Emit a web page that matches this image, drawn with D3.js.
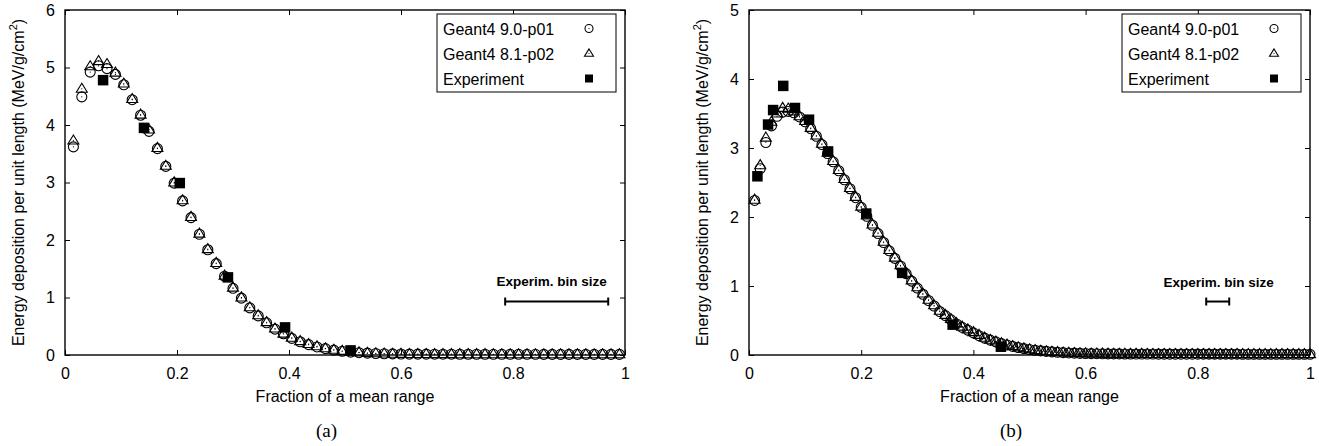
<!DOCTYPE html>
<html>
<head>
<meta charset="utf-8">
<script src="https://cdn.jsdelivr.net/npm/d3@7"></script>
<style>
  body { margin: 0; background: #fff; }
  text { fill: #000; }
</style>
</head>
<body>
<script>
// Panel (a): bins of 0.015 of the mean range
var xA = [0.015,0.03,0.045,0.06,0.075,0.09,0.105,0.12,0.135,0.15,
          0.165,0.18,0.195,0.21,0.225,0.24,0.255,0.27,0.285,0.3,
          0.315,0.33,0.345,0.36,0.375,0.39,0.405,0.42,0.435,0.45,
          0.465,0.48,0.495,0.51,0.525,0.54,0.555,0.57,0.585,0.6,
          0.615,0.63,0.645,0.66,0.675,0.69,0.705,0.72,0.735,0.75,
          0.765,0.78,0.795,0.81,0.825,0.84,0.855,0.87,0.885,0.9,
          0.915,0.93,0.945,0.96,0.975,0.99];
var g4_90_A = [3.62,4.49,4.92,5.03,4.98,4.88,4.70,4.44,4.17,3.89,
               3.59,3.28,2.99,2.68,2.39,2.10,1.83,1.59,1.37,1.16,
               0.99,0.82,0.68,0.56,0.45,0.37,0.29,0.23,0.18,0.14,
               0.11,0.085,0.065,0.05,0.04,0.032,0.026,0.022,0.019,0.017,
               0.016,0.015,0.015,0.014,0.014,0.014,0.013,0.013,0.013,0.013,
               0.012,0.012,0.012,0.012,0.012,0.012,0.011,0.011,0.011,0.011,
               0.011,0.011,0.011,0.011,0.011,0.011];
var g4_81_A = [3.73,4.63,5.02,5.11,5.06,4.91,4.72,4.45,4.18,3.92,
               3.60,3.29,3.00,2.69,2.40,2.11,1.84,1.60,1.38,1.17,
               1.00,0.83,0.69,0.57,0.46,0.37,0.30,0.24,0.19,0.15,
               0.115,0.09,0.07,0.055,0.044,0.035,0.028,0.024,0.021,0.019,
               0.016,0.015,0.015,0.014,0.014,0.014,0.013,0.013,0.013,0.013,
               0.012,0.012,0.012,0.012,0.012,0.012,0.011,0.011,0.011,0.011,
               0.011,0.011,0.011,0.011,0.011,0.011];
var expXA = [0.068,0.141,0.205,0.291,0.393,0.51];
var expYA = [4.78,3.95,2.99,1.35,0.48,0.08];
var binA = [0.786,0.970], binYA = 0.93;

// Panel (b): bins of 0.01 of the mean range
var xB = [0.01,0.02,0.03,0.04,0.05,0.06,0.07,0.08,0.09,0.1,
          0.11,0.12,0.13,0.14,0.15,0.16,0.17,0.18,0.19,0.2,
          0.21,0.22,0.23,0.24,0.25,0.26,0.27,0.28,0.29,0.3,
          0.31,0.32,0.33,0.34,0.35,0.36,0.37,0.38,0.39,0.4,
          0.41,0.42,0.43,0.44,0.45,0.46,0.47,0.48,0.49,0.5,
          0.51,0.52,0.53,0.54,0.55,0.56,0.57,0.58,0.59,0.6,
          0.61,0.62,0.63,0.64,0.65,0.66,0.67,0.68,0.69,0.7,
          0.71,0.72,0.73,0.74,0.75,0.76,0.77,0.78,0.79,0.8,
          0.81,0.82,0.83,0.84,0.85,0.86,0.87,0.88,0.89,0.9,
          0.91,0.92,0.93,0.94,0.95,0.96,0.97,0.98,0.99,1.0];
var g4_90_B = [2.24,2.70,3.08,3.32,3.46,3.52,3.53,3.51,3.45,3.38,
               3.28,3.17,3.05,2.92,2.80,2.67,2.54,2.41,2.28,2.14,
               2.01,1.88,1.76,1.63,1.51,1.40,1.29,1.18,1.07,0.97,
               0.88,0.79,0.71,0.63,0.57,0.51,0.45,0.40,0.36,0.32,
               0.28,0.245,0.215,0.19,0.165,0.145,0.125,0.108,0.093,0.08,
               0.069,0.06,0.052,0.045,0.039,0.034,0.03,0.027,0.024,0.022,
               0.02,0.019,0.018,0.017,0.016,0.016,0.015,0.015,0.014,0.014,
               0.014,0.014,0.013,0.013,0.013,0.013,0.013,0.013,0.012,0.012,
               0.012,0.012,0.012,0.012,0.012,0.012,0.012,0.011,0.011,0.011,
               0.011,0.011,0.011,0.011,0.011,0.011,0.011,0.011,0.011,0.010];
var g4_81_B = [2.25,2.75,3.15,3.38,3.50,3.58,3.57,3.53,3.46,3.39,
               3.29,3.18,3.06,2.93,2.81,2.68,2.55,2.42,2.29,2.15,
               2.02,1.89,1.77,1.64,1.52,1.41,1.30,1.19,1.08,0.98,
               0.89,0.80,0.72,0.64,0.58,0.52,0.46,0.41,0.37,0.33,
               0.29,0.25,0.22,0.195,0.17,0.15,0.13,0.11,0.095,0.082,
               0.07,0.061,0.053,0.046,0.04,0.035,0.031,0.028,0.025,0.023,
               0.021,0.02,0.019,0.018,0.017,0.016,0.016,0.015,0.015,0.015,
               0.014,0.014,0.014,0.014,0.013,0.013,0.013,0.013,0.013,0.013,
               0.012,0.012,0.012,0.012,0.012,0.012,0.012,0.012,0.012,0.012,
               0.011,0.011,0.011,0.011,0.011,0.011,0.011,0.011,0.011,0.011];
var expXB = [0.015,0.034,0.043,0.061,0.082,0.107,0.141,0.209,0.273,0.363,0.449];
var expYB = [2.59,3.34,3.55,3.90,3.58,3.41,2.95,2.05,1.19,0.44,0.12];
var binB = [0.815,0.856], binYB = 0.775;

var xTicks = [0, 0.2, 0.4, 0.6, 0.8, 1];
var xTickLabels = ["0", "0.2", "0.4", "0.6", "0.8", "1"];
var yTicksA = [0, 1, 2, 3, 4, 5, 6];
var yTicksB = [0, 1, 2, 3, 4, 5];
var legendNames = ["Geant4 9.0-p01", "Geant4 8.1-p02", "Experiment"];

var SANS = "'Liberation Sans', Arial, Helvetica, sans-serif";
var SERIF = "'Liberation Serif', 'Times New Roman', serif";

var W = 1319, H = 446;
var svg = d3.select("body").append("svg")
  .attr("width", W).attr("height", H)
  .style("font-family", SANS);
svg.append("rect").attr("width", W).attr("height", H).attr("fill", "#fff");

function zip(xs, ys) { return xs.map(function(x, i) { return [x, ys[i]]; }); }

function circleMark(g, r) {
  g.append("circle").attr("r", r).attr("fill", "none").attr("stroke", "#000").attr("stroke-width", 1.1);
  g.append("circle").attr("r", 0.6).attr("fill", "#000");
}
function triMark(g, s) {
  var h = s * 0.82;
  g.append("path")
    .attr("d", "M0," + (-h * 0.62) + "L" + (s / 2) + "," + (h * 0.38) + "L" + (-s / 2) + "," + (h * 0.38) + "Z")
    .attr("fill", "none").attr("stroke", "#000").attr("stroke-width", 1.1);
  g.append("circle").attr("r", 0.6).attr("fill", "#000");
}
function squareMark(g, s) {
  g.append("rect").attr("x", -s / 2).attr("y", -s / 2).attr("width", s).attr("height", s).attr("fill", "#000");
}

function drawPanel(p) {
  var x = d3.scaleLinear().domain([0, 1]).range([p.left, p.right]);
  var y = d3.scaleLinear().domain([0, p.yMax]).range([p.bottom, p.top]);
  var g = svg.append("g");

  // axes: ticks point inward on all four sides
  var fmt = function(d) { return xTickLabels[xTicks.indexOf(d)]; };
  g.append("g").attr("transform", "translate(0," + p.bottom + ")")
    .call(d3.axisBottom(x).tickValues(xTicks).tickFormat(fmt).tickSizeInner(-5).tickSizeOuter(0).tickPadding(13));
  g.append("g").attr("transform", "translate(0," + p.top + ")")
    .call(d3.axisTop(x).tickValues(xTicks).tickFormat("").tickSizeInner(-5).tickSizeOuter(0));
  g.append("g").attr("transform", "translate(" + p.left + ",0)")
    .call(d3.axisLeft(y).tickValues(p.yTicks).tickFormat(d3.format("d")).tickSizeInner(-5).tickSizeOuter(0).tickPadding(10));
  g.append("g").attr("transform", "translate(" + p.right + ",0)")
    .call(d3.axisRight(y).tickValues(p.yTicks).tickFormat("").tickSizeInner(-5).tickSizeOuter(0));
  g.selectAll(".domain").remove();
  g.selectAll(".tick line").attr("stroke", "#000").attr("stroke-width", 1);
  g.selectAll(".tick text").attr("font-size", 16).style("font-family", SANS);

  // data markers
  var pts = g.append("g");
  zip(p.xs, p.s90).forEach(function(d) {
    circleMark(pts.append("g").attr("transform", "translate(" + x(d[0]) + "," + y(d[1]) + ")"), 5);
  });
  zip(p.xs, p.s81).forEach(function(d) {
    triMark(pts.append("g").attr("transform", "translate(" + x(d[0]) + "," + y(d[1]) + ")"), 11);
  });
  zip(p.ex, p.ey).forEach(function(d) {
    squareMark(pts.append("g").attr("transform", "translate(" + x(d[0]) + "," + y(d[1]) + ")"), 10.5);
  });

  // frame
  g.append("rect").attr("x", p.left).attr("y", p.top)
    .attr("width", p.right - p.left).attr("height", p.bottom - p.top)
    .attr("fill", "none").attr("stroke", "#000").attr("stroke-width", 1.4);

  // experimental bin size
  var by = y(p.binY);
  g.append("line").attr("x1", x(p.bin[0])).attr("x2", x(p.bin[1])).attr("y1", by).attr("y2", by)
    .attr("stroke", "#000").attr("stroke-width", 2);
  p.bin.forEach(function(b) {
    g.append("line").attr("x1", x(b)).attr("x2", x(b)).attr("y1", by - 4).attr("y2", by + 4)
      .attr("stroke", "#000").attr("stroke-width", 2);
  });
  g.append("text").attr("x", x(p.binTextX)).attr("y", y(p.binTextY))
    .attr("text-anchor", "middle").attr("font-size", 13.5).attr("font-weight", "bold")
    .text("Experim. bin size");

  // legend
  var lg = g.append("g");
  lg.append("rect").attr("x", p.right - 188).attr("y", p.top + 4).attr("width", 179).attr("height", 78)
    .attr("fill", "#fff").attr("stroke", "#000").attr("stroke-width", 1);
  legendNames.forEach(function(name, i) {
    var cy = p.top + 18.5 + i * 25;
    lg.append("text").attr("x", p.right - 182).attr("y", cy + 6).attr("font-size", 16).text(name);
    var m = lg.append("g").attr("transform", "translate(" + (p.right - 36) + "," + cy + ")");
    if (i === 0) circleMark(m, 4);
    else if (i === 1) triMark(m, 9);
    else squareMark(m, 8);
  });

  // axis titles
  var cx = (p.left + p.right) / 2;
  g.append("text").attr("x", cx).attr("y", p.bottom + 47).attr("text-anchor", "middle")
    .attr("font-size", 16).text("Fraction of a mean range");
  var yl = g.append("text")
    .attr("transform", "translate(" + (p.left - 41) + "," + ((p.top + p.bottom) / 2) + ") rotate(-90)")
    .attr("text-anchor", "middle").attr("font-size", 16);
  yl.append("tspan").text("Energy deposition per unit length (MeV/g/cm");
  yl.append("tspan").attr("font-size", 11).attr("dy", -7).text("2");
  yl.append("tspan").attr("dy", 7).text(")");

  g.append("text").attr("x", cx - 18.5).attr("y", p.bottom + 82).attr("text-anchor", "middle")
    .attr("font-size", 19).style("font-family", SERIF)
    .text(p.caption);
}

drawPanel({
  left: 65, right: 625, top: 10, bottom: 355, yMax: 6, yTicks: yTicksA,
  xs: xA, s90: g4_90_A, s81: g4_81_A, ex: expXA, ey: expYA,
  bin: binA, binY: binYA, binTextX: 0.869, binTextY: 1.2, caption: "(a)"
});
drawPanel({
  left: 749, right: 1310, top: 10, bottom: 355, yMax: 5, yTicks: yTicksB,
  xs: xB, s90: g4_90_B, s81: g4_81_B, ex: expXB, ey: expYB,
  bin: binB, binY: binYB, binTextX: 0.837, binTextY: 0.99, caption: "(b)"
});
</script>
</body>
</html>
